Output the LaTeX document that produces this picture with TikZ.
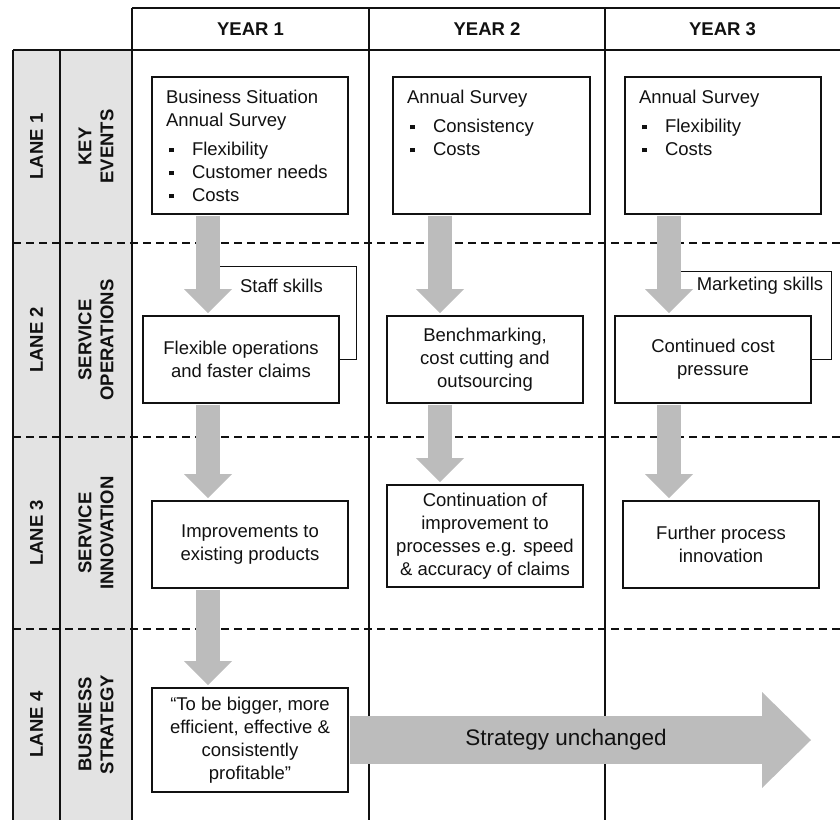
\documentclass[tikz,border=0pt]{standalone}
\usepackage{fontspec}
\setmainfont{Liberation Sans}
\usetikzlibrary{arrows.meta}

\definecolor{lanegray}{HTML}{E3E3E3}
\definecolor{flowgray}{HTML}{BCBCBC}
\definecolor{ink}{HTML}{111111}
\newcommand\sqbullet{\makebox[26pt][l]{\hspace{3pt}\rule[3.5pt]{4.8pt}{4.8pt}}}

\begin{document}
\begin{tikzpicture}[
        x=1pt, y=1pt,
        every node/.style={text=ink, font=\fontsize{18.5}{23}\selectfont},
        grid line/.style={draw=ink, line width=1.3pt},
        lane line/.style={draw=ink, line width=1.2pt, dash pattern=on 8pt off 5pt},
        key box/.style={draw=ink, line width=1.6pt, inner xsep=14pt, inner ysep=13pt},
        step box/.style={draw=ink, line width=1.6pt, align=center, minimum width=196pt, minimum height=87pt, inner sep=4pt},
        head label/.style={font=\bfseries\fontsize{18.5}{23}\selectfont},
        lane label/.style={rotate=90, align=center, font=\bfseries\fontsize{18.5}{22}\selectfont},
        flow/.style={draw=flowgray, line width=24pt, shorten <=0.8pt, shorten >=2pt, -{Triangle[width=48pt,length=24pt,line width=0pt]}},
        strategy/.style={draw=flowgray, line width=48pt, shorten <=0.8pt, -{Triangle[width=96pt,length=49pt,line width=0pt]}},
        skill line/.style={draw=ink, line width=0.8pt},
    ]
    \useasboundingbox (0,0) rectangle (840,820);

    % lanes and years
    \fill[lanegray] (13,0) rectangle (132,770);
    \draw[grid line] (132,812) -- (840,812);
    \draw[grid line] (13,770) -- (840,770);
    \foreach \x in {13,60} \draw[grid line] (\x,770) -- (\x,0);
    \foreach \x in {132,369,605} \draw[grid line] (\x,812) -- (\x,0);
    \foreach \y in {577,383,191} \draw[lane line] (13,\y) -- (840,\y);

    \foreach \x/\n in {250.5/1,487/2,722.5/3}
        \node[head label] (y\n) at (\x,791) {YEAR \n};
    \foreach \y/\n/\t in {673.5/1/{KEY\\EVENTS},480/2/{SERVICE\\OPERATIONS},287/3/{SERVICE\\INNOVATION},95.5/4/{BUSINESS\\STRATEGY}} {
        \node[lane label] (lane\n) at (36.5,\y) {LANE \n};
        \node[lane label] (topic\n) at (96,\y) {\t};
    }

    % lane 1
    \node[key box] (k1) at (250,674.5) {\parbox[c][111pt][t]{168pt}{\raggedright
        Business Situation\\Annual Survey\\[6.5pt]\sqbullet Flexibility\\\sqbullet Customer needs\\\sqbullet Costs}};
    \node[key box] (k2) at (491.5,674.5) {\parbox[c][111pt][t]{169pt}{\raggedright
        Annual Survey\\[6.5pt]\sqbullet Consistency\\\sqbullet Costs}};
    \node[key box] (k3) at (723,674.5) {\parbox[c][111pt][t]{168pt}{\raggedright
        Annual Survey\\[6.5pt]\sqbullet Flexibility\\\sqbullet Costs}};

    % lane 2
    \node[step box] (o1) at (241,460.5) {Flexible operations\\and faster claims};
    \node[step box] (o2) at (485,460.5) {Benchmarking,\\cost cutting and\\outsourcing};
    \node[step box] (o3) at (713,460.5) {Continued cost\\pressure};

    % lane 3
    \node[step box] (i1) at (250,275.5) {Improvements to\\existing products};
    \node[step box, minimum height=102pt] (i2) at (485,284) {Continuation of\\improvement to\\processes e.g. speed\\\& accuracy of claims};
    \node[step box] (i3) at (721,275.5) {Further process\\innovation};

    % lane 4
    \node[step box, minimum height=104pt] (s1) at (250,80) {“To be bigger, more\\efficient, effective \&\\consistently\\profitable”};

    \coordinate (a1) at (208,0);
    \coordinate (a2) at (440,0);
    \coordinate (a3) at (669,0);
    \coordinate (tip) at (811,0);

    \draw[strategy] (s1.east) -- (s1.east -| tip);
    \node[font=\fontsize{22.5}{27}\selectfont] (unchanged) at (566,80) {Strategy unchanged};

    \draw[flow] (k1.south -| a1) -- (o1.north -| a1);
    \draw[flow] (o1.south -| a1) -- (i1.north -| a1);
    \draw[flow] (i1.south -| a1) -- (s1.north -| a1);
    \draw[flow] (k2.south -| a2) -- (o2.north -| a2);
    \draw[flow] (o2.south -| a2) -- (i2.north -| a2);
    \draw[flow] (k3.south -| a3) -- (o3.north -| a3);
    \draw[flow] (o3.south -| a3) -- (i3.north -| a3);

    % skills feeding the operations
    \coordinate (sk1) at (220,554);
    \coordinate (sk3) at (681,549);
    \draw[skill line] (sk1) -| ([xshift=17pt]o1.east) -- (o1.east);
    \draw[skill line] (sk3) -| ([xshift=20pt]o3.east) -- (o3.east);
    \node (staff) at (281.5,534) {Staff skills};
    \node (marketing) at (760,534) {Marketing skills};
\end{tikzpicture}
\end{document}
